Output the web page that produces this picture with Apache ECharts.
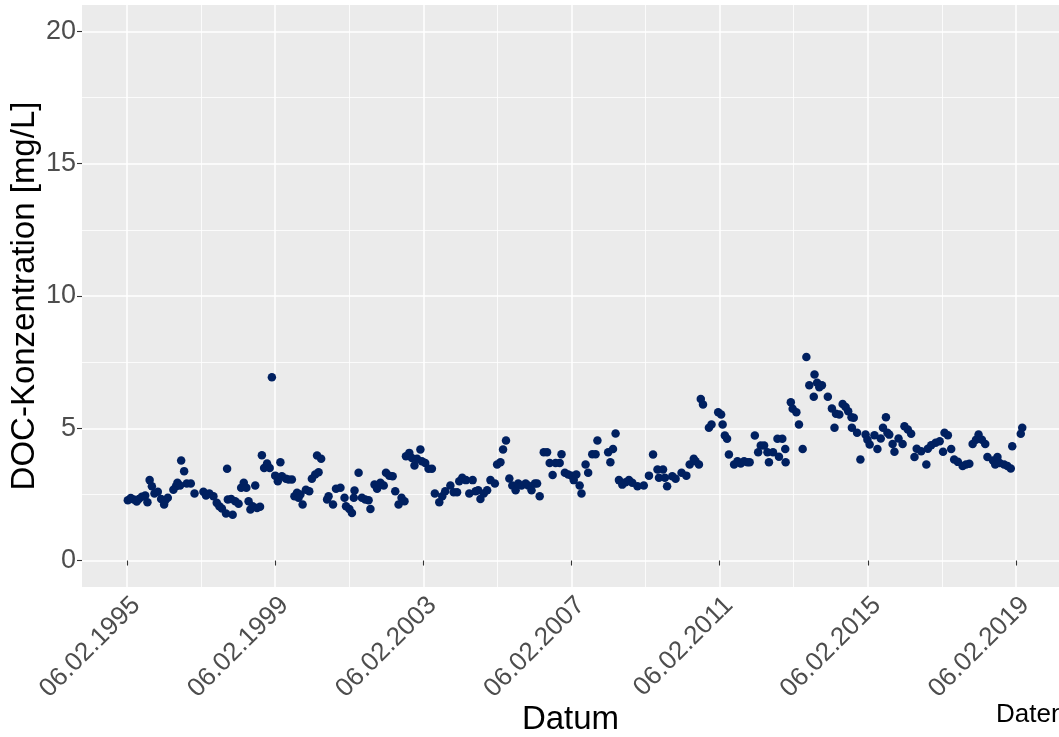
<!DOCTYPE html>
<html>
<head>
<meta charset="utf-8">
<script src="https://cdn.jsdelivr.net/npm/echarts@6/dist/echarts.min.js"></script>
<style>
  html, body { margin: 0; padding: 0; background: #ffffff; }
  #chart { width: 1059px; height: 737px; }
</style>
</head>
<body>
<div id="chart"></div>
<script>
// Sampling dates as decimal years and the measured DOC concentration (mg/L)
const sampleYears = [
  1995.12, 1995.20, 1995.28, 1995.36, 1995.42, 1995.50, 1995.59, 1995.65, 1995.71, 1995.77,
  1995.84, 1995.93, 1996.02, 1996.10, 1996.13, 1996.20, 1996.35, 1996.42, 1996.46, 1996.53,
  1996.56, 1996.64, 1996.71, 1996.82, 1996.92, 1997.16, 1997.23, 1997.32, 1997.43, 1997.52,
  1997.59, 1997.66, 1997.77, 1997.80, 1997.82, 1997.91, 1997.95, 1998.02, 1998.11, 1998.18,
  1998.25, 1998.32, 1998.38, 1998.43, 1998.49, 1998.56, 1998.61, 1998.69, 1998.74, 1998.80,
  1998.88, 1998.95, 1999.01, 1999.10, 1999.17, 1999.24, 1999.28, 1999.39, 1999.46, 1999.55,
  1999.62, 1999.69, 1999.73, 1999.78, 1999.84, 1999.93, 2000.02, 2000.09, 2000.18, 2000.23,
  2000.27, 2000.34, 2000.50, 2000.54, 2000.66, 2000.74, 2000.86, 2000.97, 2001.01, 2001.10,
  2001.17, 2001.22, 2001.24, 2001.35, 2001.44, 2001.53, 2001.62, 2001.67, 2001.78, 2001.85,
  2001.94, 2002.03, 2002.09, 2002.18, 2002.27, 2002.34, 2002.43, 2002.51, 2002.59, 2002.63,
  2002.72, 2002.79, 2002.86, 2002.93, 2003.02, 2003.06, 2003.15, 2003.24, 2003.33, 2003.41,
  2003.53, 2003.61, 2003.69, 2003.83, 2003.92, 2004.01, 2004.07, 2004.15, 2004.25, 2004.34,
  2004.43, 2004.51, 2004.58, 2004.64, 2004.73, 2004.82, 2004.91, 2005.03, 2005.09, 2005.18,
  2005.25, 2005.33, 2005.42, 2005.50, 2005.59, 2005.66, 2005.75, 2005.86, 2005.93, 2006.02,
  2006.11, 2006.17, 2006.24, 2006.35, 2006.44, 2006.51, 2006.59, 2006.67, 2006.78, 2006.83,
  2006.92, 2007.01, 2007.10, 2007.16, 2007.23, 2007.32, 2007.37, 2007.48, 2007.55, 2007.66,
  2007.75, 2007.80, 2008.09, 2008.15, 2008.22, 2008.29, 2008.38, 2008.47, 2008.56, 2008.65,
  2008.74, 2008.88, 2009.05, 2009.19, 2009.30, 2009.42, 2009.46, 2009.57, 2009.62, 2009.68,
  2009.82, 2009.91, 2010.07, 2010.20, 2010.29, 2010.40, 2010.45, 2010.54, 2010.59, 2010.65,
  2010.81, 2010.88, 2011.06, 2011.14, 2011.18, 2011.24, 2011.30, 2011.35, 2011.49, 2011.58,
  2011.67, 2011.76, 2011.85, 2011.91, 2012.05, 2012.14, 2012.21, 2012.30, 2012.39, 2012.43,
  2012.54, 2012.66, 2012.70, 2012.79, 2012.87, 2012.88, 2013.02, 2013.07, 2013.17, 2013.24,
  2013.34, 2013.44, 2013.52, 2013.64, 2013.66, 2013.73, 2013.79, 2013.86, 2014.02, 2014.13,
  2014.20, 2014.24, 2014.33, 2014.42, 2014.50, 2014.57, 2014.66, 2014.67, 2014.72, 2014.81,
  2014.90, 2015.04, 2015.09, 2015.15, 2015.28, 2015.36, 2015.45, 2015.51, 2015.59, 2015.63,
  2015.68, 2015.77, 2015.82, 2015.93, 2016.04, 2016.09, 2016.18, 2016.27, 2016.36, 2016.42,
  2016.54, 2016.68, 2016.72, 2016.81, 2016.93, 2017.04, 2017.13, 2017.17, 2017.26, 2017.35,
  2017.43, 2017.53, 2017.66, 2017.75, 2017.84, 2017.93, 2018.02, 2018.09, 2018.18, 2018.27,
  2018.33, 2018.48, 2018.54, 2018.60, 2018.66, 2018.78, 2018.87, 2018.96, 2019.00, 2019.23,
  2019.27
];

const docValues = [
  2.28, 2.36, 2.31, 2.23, 2.33, 2.41, 2.46, 2.20, 3.04, 2.81,
  2.53, 2.60, 2.33, 2.12, 2.27, 2.37, 2.68, 2.81, 2.94, 2.84,
  3.78, 3.38, 2.91, 2.91, 2.53, 2.60, 2.46, 2.53, 2.43, 2.18,
  2.05, 1.97, 1.78, 3.47, 2.31, 2.33, 1.73, 2.24, 2.15, 2.75,
  2.94, 2.75, 2.24, 1.93, 2.05, 2.84, 1.99, 2.03, 3.98, 3.50,
  3.67, 3.50, 6.93, 3.21, 3.00, 3.72, 3.19, 3.09, 3.06, 3.06,
  2.43, 2.56, 2.37, 2.50, 2.12, 2.68, 2.62, 3.09, 3.25, 3.97,
  3.34, 3.85, 2.31, 2.43, 2.12, 2.71, 2.75, 2.37, 2.05, 1.95,
  1.80, 2.37, 2.65, 3.32, 2.37, 2.31, 2.28, 1.95, 2.87, 2.71,
  2.94, 2.84, 3.32, 3.21, 3.19, 2.62, 2.12, 2.37, 2.24, 3.94,
  4.07, 3.88, 3.59, 3.85, 4.20, 3.75, 3.69, 3.47, 3.47, 2.53,
  2.20, 2.43, 2.62, 2.84, 2.58, 2.58, 3.00, 3.13, 3.04, 2.53,
  3.04, 2.62, 2.66, 2.33, 2.53, 2.66, 3.04, 2.91, 3.63, 3.72,
  4.20, 4.54, 3.10, 2.84, 2.66, 2.91, 2.84, 2.91, 2.84, 2.66,
  2.91, 2.91, 2.43, 4.09, 4.09, 3.69, 3.23, 3.69, 3.69, 4.02,
  3.32, 3.25, 3.21, 3.04, 3.25, 2.84, 2.53, 3.63, 3.32, 4.02,
  4.02, 4.54, 4.09, 3.72, 4.22, 4.80, 3.04, 2.87, 2.96, 3.04,
  2.94, 2.81, 2.84, 3.21, 4.01, 3.44, 3.13, 3.44, 3.13, 2.81,
  3.19, 3.09, 3.32, 3.21, 3.63, 3.85, 3.75, 3.63, 6.11, 5.90,
  5.02, 5.14, 5.61, 5.52, 5.14, 4.73, 4.60, 4.01, 3.63, 3.75,
  3.67, 3.75, 3.72, 3.72, 4.73, 4.09, 4.35, 4.35, 4.09, 3.72,
  4.09, 4.60, 3.92, 4.60, 4.22, 3.72, 5.98, 5.74, 5.61, 5.14,
  4.22, 7.69, 6.63, 6.19, 7.03, 6.72, 6.55, 6.63, 6.19, 5.75,
  5.02, 5.55, 5.52, 5.92, 5.80, 5.64, 5.42, 5.02, 5.40, 4.83,
  3.82, 4.76, 4.57, 4.39, 4.74, 4.22, 4.61, 5.02, 5.42, 4.83,
  4.76, 4.41, 4.11, 4.61, 4.41, 5.08, 4.95, 4.79, 3.91, 4.23,
  4.13, 3.63, 4.23, 4.36, 4.45, 4.51, 4.11, 4.83, 4.74, 4.22,
  3.82, 3.73, 3.57, 3.63, 3.66, 4.41, 4.57, 4.76, 4.57, 4.41,
  3.91, 3.78, 3.63, 3.91, 3.69, 3.63, 3.57, 3.48, 4.32, 4.79,
  5.02
];

// Axis breaks
const xTickLabels = ['06.02.1995', '06.02.1999', '06.02.2003', '06.02.2007', '06.02.2011', '06.02.2015', '06.02.2019'];
const yTickValues = [0, 5, 10, 15, 20];
const yMinorValues = [2.5, 7.5, 12.5, 17.5];

const FONT = '"Liberation Sans", Arial, sans-serif';
const DAY = 86400000;

function parseDMY(s) {
  const p = s.split('.').map(Number);
  return Date.UTC(p[2], p[1] - 1, p[0]);
}
function yearToTime(t) {
  const y = Math.floor(t);
  const a = Date.UTC(y, 0, 1), b = Date.UTC(y + 1, 0, 1);
  return a + (t - y) * (b - a);
}
function pad(n) { return (n < 10 ? '0' : '') + n; }
function formatDMY(ts) {
  const d = new Date(Number(ts));
  return pad(d.getUTCDate()) + '.' + pad(d.getUTCMonth() + 1) + '.' + d.getUTCFullYear();
}

const xTicks = xTickLabels.map(parseDMY);
const xMinor = xTicks.slice(1).map((t, i) => Math.round((t + xTicks[i]) / 2));
const xMin = xTicks[0] - 444 * DAY;
const xMax = xTicks[xTicks.length - 1] + 425 * DAY;

const points = sampleYears.map((yr, i) => [yearToTime(yr), docValues[i]]);

const chart = echarts.init(document.getElementById('chart'), null, { renderer: 'canvas' });

chart.setOption({
  animation: false,
  backgroundColor: '#ffffff',
  grid: {
    left: 82, right: 0, top: 5, bottom: 150,
    outerBoundsMode: 'none', containLabel: false,
    show: true, backgroundColor: '#EBEBEB', borderWidth: 0
  },
  xAxis: [
    {
      type: 'value', min: xMin, max: xMax, position: 'bottom', scale: true,
      axisLine: { show: false },
      axisTick: { show: true, length: 5, customValues: xTicks, lineStyle: { color: '#333333', width: 1.1 } },
      axisLabel: {
        customValues: xTicks, formatter: formatDMY, rotate: 45, margin: 5, verticalAlign: 'top',
        fontSize: 26, color: '#4D4D4D', fontFamily: FONT
      },
      splitLine: { show: true, lineStyle: { color: '#ffffff', width: 1.5 } },
      name: 'Datum', nameLocation: 'middle', nameGap: 116, nameMoveOverlap: false,
      nameTextStyle: { fontSize: 33, color: '#000000', fontFamily: FONT }
    },
    {
      type: 'value', min: xMin, max: xMax, position: 'bottom', gridIndex: 0, scale: true,
      axisLine: { show: false },
      axisTick: { show: false, customValues: xMinor },
      axisLabel: { show: false, customValues: xMinor },
      splitLine: { show: true, lineStyle: { color: '#ffffff', width: 0.8 } }
    }
  ],
  yAxis: [
    {
      type: 'value', min: -1, max: 21, position: 'left',
      axisLine: { show: false },
      axisTick: { show: true, length: 5, customValues: yTickValues, lineStyle: { color: '#333333', width: 1.1 } },
      axisLabel: { customValues: yTickValues, margin: 6, fontSize: 27, color: '#4D4D4D', fontFamily: FONT },
      splitLine: { show: true, lineStyle: { color: '#ffffff', width: 1.5 } },
      name: 'DOC-Konzentration [mg/L]', nameLocation: 'middle', nameGap: 41, nameRotate: 90,
      nameMoveOverlap: false,
      nameTextStyle: { fontSize: 33, color: '#000000', fontFamily: FONT }
    },
    {
      type: 'value', min: -1, max: 21, position: 'left', gridIndex: 0,
      axisLine: { show: false },
      axisTick: { show: false, customValues: yMinorValues },
      axisLabel: { show: false, customValues: yMinorValues },
      splitLine: { show: true, lineStyle: { color: '#ffffff', width: 0.8 } }
    }
  ],
  series: [
    {
      type: 'scatter',
      xAxisIndex: 0, yAxisIndex: 0,
      data: points,
      symbol: 'circle', symbolSize: 8.5,
      itemStyle: { color: '#002060', opacity: 1 },
      silent: true
    }
  ],
  graphic: [
    {
      type: 'text', left: 996, top: 702,
      style: { text: 'Datenquelle', fontSize: 26, fill: '#000000', fontFamily: FONT }
    }
  ]
});
</script>
</body>
</html>
